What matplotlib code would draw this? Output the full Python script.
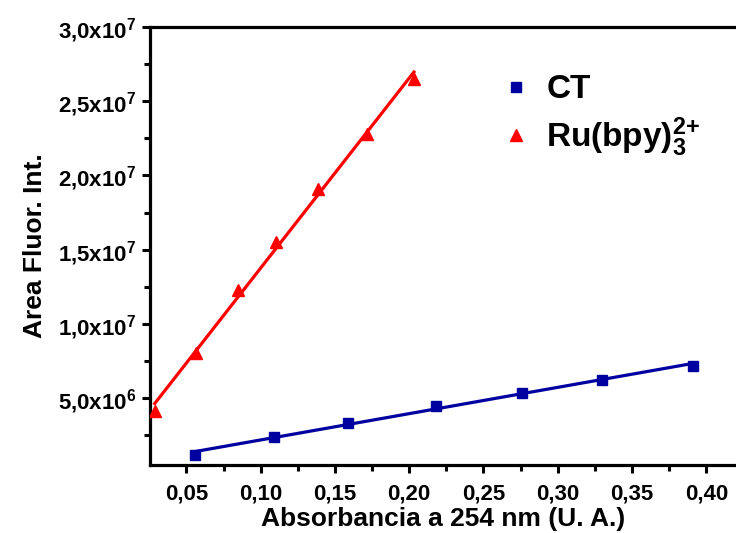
import numpy as np
import matplotlib.pyplot as plt
from matplotlib.ticker import MultipleLocator, FuncFormatter

plt.rcParams["font.family"] = ["Liberation Sans", "DejaVu Sans"]
plt.rcParams["font.weight"] = "bold"
plt.rcParams["mathtext.default"] = "regular"

# CT standard
ct_abs = [0.0556, 0.1093, 0.1589, 0.2178, 0.2760, 0.3301, 0.3911]
ct_area = [1.16e6, 2.40e6, 3.36e6, 4.46e6, 5.38e6, 6.21e6, 7.20e6]

# Ru(bpy)3 2+ reference
ru_abs = [0.0287, 0.0567, 0.0847, 0.1104, 0.1384, 0.1719, 0.2032]
ru_area = [4.15e6, 8.01e6, 1.227e7, 1.552e7, 1.911e7, 2.281e7, 2.651e7]

blue = "#0000A0"
red = "#FF0000"

fig = plt.figure(figsize=(7.36, 5.33), dpi=100)
ax = fig.add_axes([150 / 736, 68 / 533, 586 / 736, 438 / 533])

# linear fits
for x, y, c in [(ct_abs, ct_area, blue), (ru_abs, ru_area, red)]:
    m, b = np.polyfit(x, y, 1)
    xx = np.array([min(x), max(x)])
    ax.plot(xx, m * xx + b, color=c, lw=2.3, zorder=2)

ax.plot(ct_abs, ct_area, "s", color=blue, ms=6.5, label="CT", zorder=3)
ax.plot(ru_abs, ru_area, "^", color=red, ms=9,
        label=r"Ru(bpy)$_3^{2{+}}$", zorder=3)

ax.set_xlim(0.0255, 0.42)
ax.set_ylim(5e5, 3.0e7)

ax.xaxis.set_major_locator(MultipleLocator(0.05))
ax.xaxis.set_minor_locator(MultipleLocator(0.025))
ax.yaxis.set_major_locator(MultipleLocator(5e6))
ax.yaxis.set_minor_locator(MultipleLocator(2.5e6))

ax.xaxis.set_major_formatter(FuncFormatter(lambda v, p: f"{v:.2f}".replace(".", ",")))


def sci(v, p):
    if v <= 0:
        return ""
    e = int(np.floor(np.log10(v)))
    mant = f"{v / 10**e:.1f}".replace(".", ",")
    return f"{mant}x10$^{{{e}}}$"


ax.yaxis.set_major_formatter(FuncFormatter(sci))

ax.tick_params(which="major", direction="out", length=6, width=2.2, labelsize=16, pad=4)
ax.tick_params(which="minor", direction="out", length=4, width=2.2)
ax.tick_params(axis="x", which="both", top=False)
ax.tick_params(axis="x", which="major", pad=7)

for s in ["left", "bottom", "top"]:
    ax.spines[s].set_linewidth(2.3)
ax.spines["right"].set_visible(False)

ax.set_xlabel("Absorbancia a 254 nm (U. A.)", fontsize=19, fontweight="bold", labelpad=2)
ax.set_ylabel("Area Fluor. Int.", fontsize=19, fontweight="bold", labelpad=8)

ax.legend(loc="upper left", bbox_to_anchor=(0.568, 0.93), frameon=False,
          handlelength=1.0, handletextpad=0.4, labelspacing=0.3,
          borderpad=0, prop={"weight": "bold", "size": 24})

fig.savefig("out.png", dpi=100)
